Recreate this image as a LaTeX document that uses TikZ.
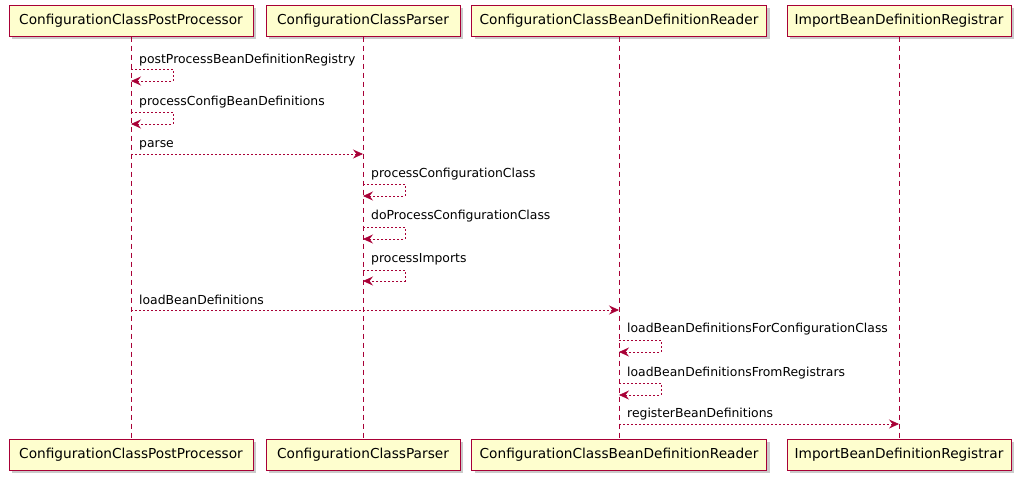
\documentclass[tikz,border=0pt]{standalone}
\usepackage{fontspec}
\setmainfont{DejaVu Sans}
\usetikzlibrary{positioning, shadows, arrows.meta}
\definecolor{umlred}{HTML}{A80036}
\definecolor{umlfill}{HTML}{FEFECE}

\begin{document}
\begin{tikzpicture}[
  x=1pt, y=-1pt,
  actor/.style={
    draw=umlred,
    fill=umlfill,
    line width=1pt,
    minimum height=31pt,
    inner sep=0pt,
    font=\fontsize{13.7}{15}\selectfont,
    drop shadow={shadow xshift=3pt, shadow yshift=-3pt, fill=black!35, opacity=0.6}
  },
  lifeline/.style={draw=umlred, line width=0.8pt, dash pattern=on 5pt off 4pt},
  msg/.style={draw=umlred, line width=0.7pt, dash pattern=on 2pt off 2pt,
    -{Stealth[length=10pt, width=9pt, inset=3.5pt, fill=umlred]}},
  lbl/.style={anchor=west, inner sep=0pt, font=\fontsize{12.4}{14}\selectfont}
]
\useasboundingbox (0,0) rectangle (1019,482);

% participants, top and bottom
\node[actor, minimum width=244pt] (cpp) at (131,20.5) {ConfigurationClassPostProcessor};
\node[actor, minimum width=194pt] (ccp) at (363,20.5) {ConfigurationClassParser};
\node[actor, minimum width=295pt] (cbr) at (619,20.5) {ConfigurationClassBeanDefinitionReader};
\node[actor, minimum width=224pt] (ibr) at (899,20.5) {ImportBeanDefinitionRegistrar};

\node[actor, minimum width=244pt] (cppB) at (131,454.5) {ConfigurationClassPostProcessor};
\node[actor, minimum width=194pt] (ccpB) at (363,454.5) {ConfigurationClassParser};
\node[actor, minimum width=295pt] (cbrB) at (619,454.5) {ConfigurationClassBeanDefinitionReader};
\node[actor, minimum width=224pt] (ibrB) at (899,454.5) {ImportBeanDefinitionRegistrar};

% lifelines
\draw[lifeline] (cpp.south) -- (cppB.north);
\draw[lifeline] (ccp.south) -- (ccpB.north);
\draw[lifeline] (cbr.south) -- (cbrB.north);
\draw[lifeline] (ibr.south) -- (ibrB.north);

% messages
\coordinate (m1) at (131,69);
\draw[msg] (m1) -- ++(42,0) -- ++(0,12) -- ++(-42,0);
\node[lbl] (l1) at (139,60) {postProcessBeanDefinitionRegistry};

\coordinate (m2) at (131,112);
\draw[msg] (m2) -- ++(42,0) -- ++(0,12) -- ++(-42,0);
\node[lbl] (l2) at (139,102) {processConfigBeanDefinitions};

\coordinate (m3a) at (131,154);
\coordinate (m3b) at (363,154);
\draw[msg] (m3a) -- (m3b);
\node[lbl] (l3) at (139,145) {parse};

\coordinate (m4) at (363,184);
\draw[msg] (m4) -- ++(42,0) -- ++(0,12) -- ++(-42,0);
\node[lbl] (l4) at (371,174) {processConfigurationClass};

\coordinate (m5) at (363,227);
\draw[msg] (m5) -- ++(42,0) -- ++(0,12) -- ++(-42,0);
\node[lbl] (l5) at (371,216) {doProcessConfigurationClass};

\coordinate (m6) at (363,270);
\draw[msg] (m6) -- ++(42,0) -- ++(0,11) -- ++(-42,0);
\node[lbl] (l6) at (371,259) {processImports};

\coordinate (m7a) at (131,310);
\coordinate (m7b) at (619,310);
\draw[msg] (m7a) -- (m7b);
\node[lbl] (l7) at (139,300) {loadBeanDefinitions};

\coordinate (m8) at (619,340);
\draw[msg] (m8) -- ++(42,0) -- ++(0,12) -- ++(-42,0);
\node[lbl] (l8) at (627,329) {loadBeanDefinitionsForConfigurationClass};

\coordinate (m9) at (619,383);
\draw[msg] (m9) -- ++(42,0) -- ++(0,12) -- ++(-42,0);
\node[lbl] (l9) at (627,373) {loadBeanDefinitionsFromRegistrars};

\coordinate (m10a) at (619,424);
\coordinate (m10b) at (899,424);
\draw[msg] (m10a) -- (m10b);
\node[lbl] (l10) at (627,414) {registerBeanDefinitions};

\end{tikzpicture}
\end{document}
